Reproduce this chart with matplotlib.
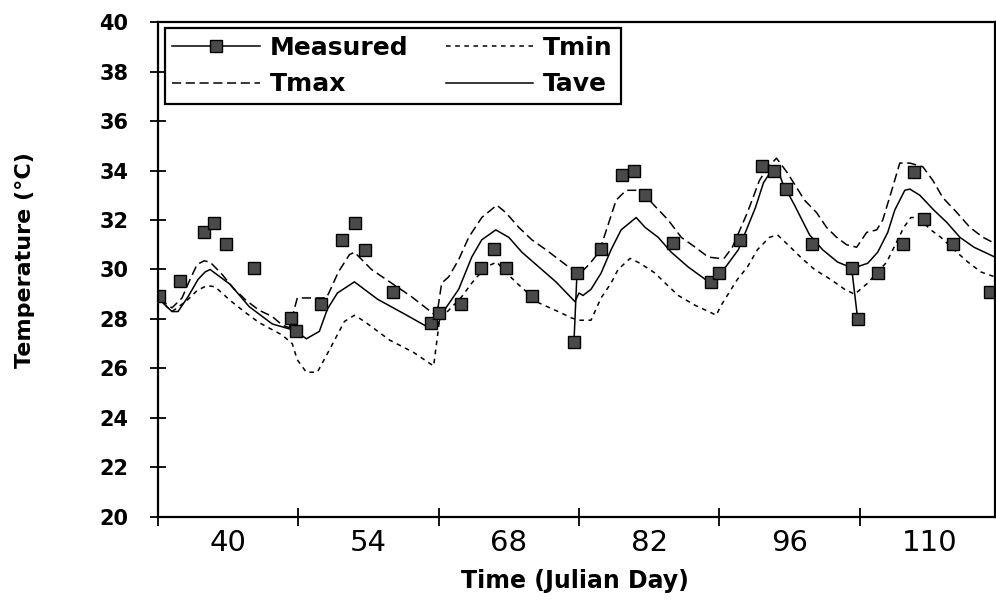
import matplotlib
matplotlib.use('Agg')
import matplotlib.pyplot as plt
from matplotlib.lines import Line2D

# Measured temperature
meas_day = [33.1, 35.2, 37.6, 38.6, 39.8, 42.6, 46.3, 46.8, 49.3, 51.4,
            52.7, 53.7, 56.4, 60.2, 61.0, 63.2, 65.2, 66.5, 67.7, 70.3,
            74.5, 74.8, 77.2, 79.3, 80.5, 81.6, 84.4, 88.2, 89.0, 91.1,
            93.3, 94.5, 95.7, 98.2, 102.2, 102.8, 104.8, 107.3, 108.4, 109.4,
            112.3, 116.0]
meas_temp = [28.93, 29.55, 31.53, 31.89, 31.03, 30.05, 28.03, 27.52, 28.59, 31.19,
             31.89, 30.79, 29.10, 27.83, 28.23, 28.61, 30.05, 30.82, 30.05, 28.93,
             27.08, 29.85, 30.82, 33.82, 33.99, 33.01, 31.06, 29.51, 29.85, 31.19,
             34.18, 33.99, 33.24, 31.02, 30.05, 28.00, 29.85, 31.03, 33.95, 32.04,
             31.03, 29.10]
# measured points that are joined by a line segment
meas_links = [(20, 21), (34, 35)]

# Simulated with average air temperature
tave_day = [33.1, 34.4, 35.0, 36.0, 37.0, 37.7, 38.2, 40.2, 42.1, 44.4, 46.1,
            46.8, 47.8, 49.1, 49.9, 50.9, 52.6, 54.9, 57.6, 59.8, 60.8,
            61.3, 63.0, 64.3, 65.3, 66.7, 68.0, 69.3, 71.0, 72.7, 74.6,
            75.0, 75.4, 76.2, 77.2, 78.2, 79.2, 80.7, 81.6, 82.9, 84.2, 85.9, 87.6, 88.6,
            88.9, 89.9, 90.9, 91.7, 92.6, 93.4, 94.2, 94.7, 95.3, 96.5, 98.0, 99.3, 100.8, 102.3,
            103.8, 104.8, 105.8, 106.5, 107.5, 108.0, 109.0, 110.4, 111.7, 113.0, 114.4, 116.5]
tave_temp = [28.8, 28.3, 28.3, 28.9, 29.6, 29.9, 30.0, 29.4, 28.5, 27.8, 27.6,
             27.5, 27.2, 27.5, 28.4, 29.05, 29.5, 28.8, 28.2, 27.7, 27.6,
             28.2, 29.2, 30.5, 31.2, 31.6, 31.3, 30.7, 30.1, 29.5, 28.7,
             29.05, 28.95, 29.2, 29.85, 30.8, 31.6, 32.1, 31.7, 31.3, 30.7, 30.1, 29.6, 29.3,
             29.7, 30.25, 30.8, 31.6, 32.5, 33.5, 34.0, 34.2, 33.5, 32.6, 31.4, 30.8, 30.3, 30.05,
             30.25, 30.7, 31.5, 32.4, 33.2, 33.25, 33.0, 32.4, 31.9, 31.3, 30.9, 30.5]

# Simulated with maximum air temperature
tmax_day = [33.1, 34.4, 35.4, 36.2, 36.9, 37.6, 38.2, 39.4, 40.5, 41.8, 43.1, 44.4, 45.4, 46.1,
            46.9, 49.8, 50.1, 51.0, 52.1, 52.6, 54.3, 56.3, 58.3, 60.2, 60.8,
            61.3, 62.0, 63.0, 64.0, 65.3, 66.8, 67.7, 69.0, 70.3, 71.7, 73.0, 74.3,
            75.0, 76.0, 77.0, 77.9, 78.7, 79.7, 80.7, 81.6, 82.6, 83.9, 85.2, 86.6, 87.9, 89.0,
            89.5, 90.3, 91.8, 93.0, 93.8, 94.7, 95.8, 97.5, 98.7, 99.7, 100.7, 101.7, 102.7,
            103.7, 104.7, 105.3, 106.2, 107.0, 108.0, 109.3, 110.3, 111.3, 112.7, 114.0, 115.3, 116.5]
tmax_temp = [28.8, 28.45, 28.85, 29.6, 30.2, 30.35, 30.3, 29.8, 29.25, 28.75, 28.35, 28.1, 27.75, 27.65,
             28.85, 28.85, 29.1, 29.9, 30.6, 30.7, 30.0, 29.45, 28.9, 28.3, 28.1,
             29.45, 29.7, 30.4, 31.3, 32.1, 32.6, 32.3, 31.7, 31.2, 30.8, 30.4, 30.0,
             29.8, 30.2, 30.7, 31.8, 32.8, 33.2, 33.2, 33.0, 32.55, 32.0, 31.3, 30.9, 30.5, 30.45,
             30.46, 30.9, 32.3, 33.6, 34.1, 34.5, 33.9, 32.8, 32.3, 31.7, 31.3, 31.0, 30.9,
             31.5, 31.6, 32.0, 33.2, 34.3, 34.3, 34.15, 33.6, 32.9, 32.3, 31.7, 31.3, 31.05]

# Simulated with minimum air temperature
tmin_day = [33.1, 34.4, 35.9, 36.9, 37.9, 38.7, 40.2, 41.6, 43.1, 45.4, 46.4, 46.9, 47.8,
            48.9, 50.1, 51.6, 52.6, 53.6, 56.1, 58.5, 60.5,
            61.1, 62.0, 63.3, 64.3, 65.7, 66.8, 67.8, 68.8, 71.0, 73.2, 74.2,
            75.0, 76.2, 77.2, 78.2, 78.9, 80.1, 81.1, 82.6, 83.6, 84.9, 86.6, 88.2, 88.7,
            89.1, 90.8, 91.8, 92.8, 94.0, 94.8, 96.1, 97.1, 98.5, 100.1, 101.5, 102.5,
            103.8, 105.7, 107.4, 108.1, 108.8, 110.1, 111.1, 112.4, 113.8, 115.1, 116.5]
tmin_temp = [28.8, 28.3, 28.75, 29.15, 29.35, 29.3, 28.75, 28.3, 27.85, 27.35, 27.0, 26.35, 25.85,
             25.85, 26.75, 27.9, 28.15, 27.9, 27.15, 26.65, 26.1,
             28.0, 28.35, 28.9, 29.45, 30.1, 30.3, 29.85, 29.45, 28.65, 28.25, 28.05,
             27.95, 27.95, 28.85, 29.45, 30.0, 30.45, 30.25, 29.85, 29.45, 28.95, 28.55, 28.25, 28.15,
             28.5, 29.6, 30.1, 30.8, 31.3, 31.4, 30.9, 30.5, 30.0, 29.6, 29.2, 29.0,
             29.45, 30.3, 31.7, 32.1, 32.1, 31.6, 31.3, 30.8, 30.3, 29.9, 29.7]

period_edges = [33, 47, 61, 75, 89, 103]
day_labels = [40, 54, 68, 82, 96, 110]

BOLD = dict(family='DejaVu Sans', weight='bold')
SHORT_DASH = (3, 3)
LONG_DASH = (6, 3)

fig = plt.figure(figsize=(9.96, 6.05), dpi=100)
ax = fig.add_axes([0.1586, 0.1455, 0.8404, 0.8181])

lw = 1.1
ax.plot(tmin_day, tmin_temp, color='black', lw=lw, dashes=SHORT_DASH)
ax.plot(tmax_day, tmax_temp, color='black', lw=lw, dashes=LONG_DASH)
ax.plot(tave_day, tave_temp, color='black', lw=lw)
for i, j in meas_links:
    ax.plot([meas_day[i], meas_day[j]], [meas_temp[i], meas_temp[j]], color='black', lw=lw)
ax.plot(meas_day, meas_temp, ls='none', marker='s', ms=9, mfc='#4a4a4a', mec='black', mew=1.0)

ax.set_xlim(33, 116.5)
ax.set_ylim(20, 40)
ax.set_yticks(range(20, 41, 2))
ax.set_yticklabels([str(v) for v in range(20, 41, 2)], fontsize=15, **BOLD)
ax.set_xticks(period_edges)
ax.set_xticklabels([''] * len(period_edges))
ax.set_xticks(day_labels, minor=True)
ax.set_xticklabels([str(d) for d in day_labels], minor=True, fontsize=21, family='DejaVu Sans')
ax.tick_params(axis='y', which='major', direction='inout', length=11, width=1.3, pad=16)
ax.tick_params(axis='x', which='major', direction='inout', length=13, width=1.3)
ax.tick_params(axis='x', which='minor', length=0, pad=9)

for s in ax.spines.values():
    s.set_linewidth(1.6)

ax.set_xlabel('Time (Julian Day)', fontsize=17, **BOLD)
ax.xaxis.set_label_coords(0.498, -0.105)
ax.set_ylabel('Temperature (\u00b0C)', fontsize=16, **BOLD)
ax.yaxis.set_label_coords(-0.147, 0.52)

handles = [
    Line2D([], [], color='black', lw=lw, marker='s', ms=9, mfc='#4a4a4a', mec='black'),
    Line2D([], [], color='black', lw=lw, dashes=LONG_DASH),
    Line2D([], [], color='black', lw=lw, dashes=SHORT_DASH),
    Line2D([], [], color='black', lw=lw),
]
leg = ax.legend(handles, ['Measured', 'Tmax', 'Tmin', 'Tave'], ncol=2,
                loc='upper left', bbox_to_anchor=(0.008, 0.987),
                prop=dict(family='DejaVu Sans', weight='bold', size=18),
                frameon=True, fancybox=False, edgecolor='black', framealpha=1,
                handlelength=3.5, handletextpad=0.4, columnspacing=1.5,
                labelspacing=0.5, borderpad=0.3, borderaxespad=0)
leg.get_frame().set_linewidth(1.6)

fig.savefig('out.png', dpi=100)
